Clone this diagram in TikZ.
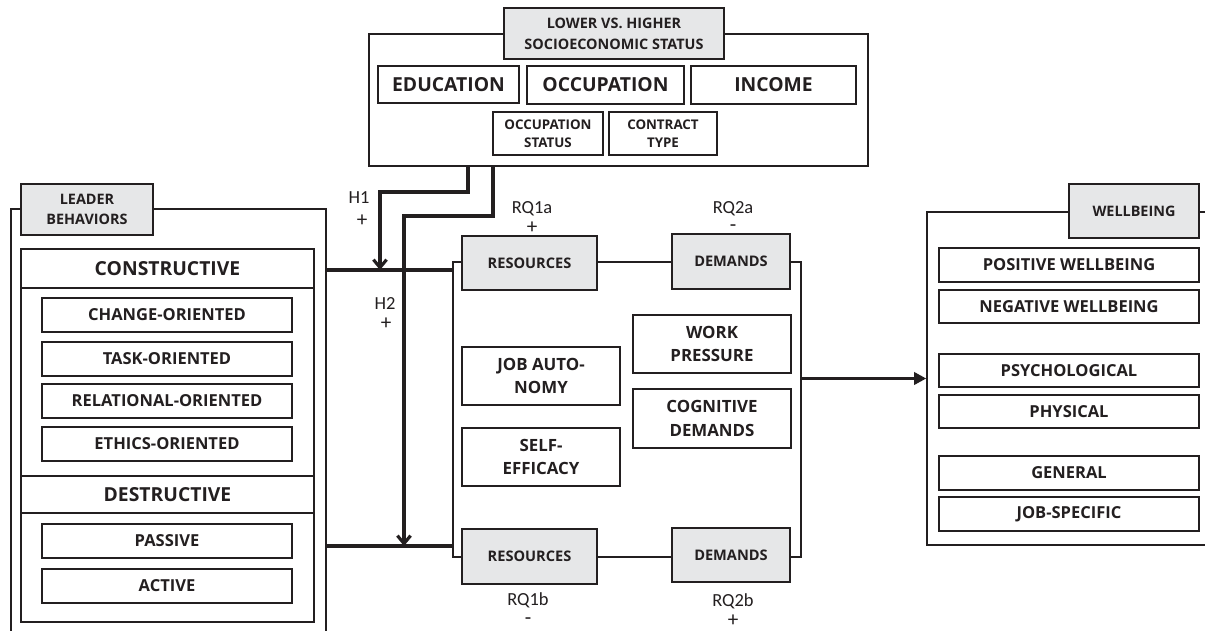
\documentclass[tikz,border=0pt]{standalone}
\usepackage{fontspec}
\setmainfont{Open Sans}
\newfontfamily\hypfont{Carlito}
\usetikzlibrary{arrows.meta}

\definecolor{boxgrey}{RGB}{230,231,232}
\definecolor{inkline}{RGB}{35,31,32}

\tikzset{
	wh/.style 2 args={minimum width=#1*0.02cm, minimum height=#2*0.02cm},
	boxframe/.style={draw=inkline, line width=0.8pt, inner sep=0pt, text=inkline},
	titlebox/.style={boxframe, fill=boxgrey, align=center, font=\bfseries\fontsize{8.2}{12}\selectfont},
	greybox/.style={boxframe, fill=boxgrey, align=center, font=\bfseries\fontsize{8.3}{11}\selectfont},
	bigitem/.style={boxframe, fill=white, align=center, font=\bfseries\fontsize{11}{13}\selectfont},
	item/.style={boxframe, fill=white, align=center, font=\bfseries\fontsize{9.4}{11}\selectfont},
	smallitem/.style={boxframe, fill=white, align=center, font=\bfseries\fontsize{7.6}{10.4}\selectfont},
	pairitem/.style={boxframe, fill=white, align=center, font=\bfseries\fontsize{9.6}{13.2}\selectfont},
	hyp/.style={inner sep=0pt, text=inkline, font=\hypfont\fontsize{10.5}{12}\selectfont},
	sign/.style={inner sep=0pt, text=inkline, font=\hypfont\fontsize{12}{13}\selectfont},
	link/.style={draw=inkline, line width=1.8pt}
}

\begin{document}
\begin{tikzpicture}[x=0.02cm, y=-0.02cm]
	\clip (0,0) rectangle (1205,631);
	\fill[white] (0,0) rectangle (1205,631);

	\node[boxframe, wh={499}{132}] (sesframe) at (618.5,100) {};
	\node[titlebox, wh={220}{51}] (sestitle) at (614,33.5) {LOWER VS. HIGHER\\SOCIOECONOMIC STATUS};
	\node[bigitem, wh={141}{37}] (education) at (448.5,84.5) {EDUCATION};
	\node[bigitem, wh={157}{38}] (occupation) at (605.5,85) {OCCUPATION};
	\node[bigitem, wh={165}{38}] (income) at (773.5,85) {INCOME};
	\node[smallitem, wh={110}{43}] (occstatus) at (548,133.5) {OCCUPATION\\STATUS};
	\node[smallitem, wh={108}{43}] (contract) at (663,133.5) {CONTRACT\\TYPE};

	\node[boxframe, wh={315}{460}] (leaderframe) at (168.5,439) {};
	\node[titlebox, wh={132}{51}, font=\bfseries\fontsize{8.2}{11.7}\selectfont] (leadertitle) at (87,209.5) {LEADER\\BEHAVIORS};
	\node[boxframe, wh={293}{373}] (leaderinner) at (167.5,435.5) {};
	\node[bigitem, wh={293}{39}] (constructive) at (167.5,268.5) {CONSTRUCTIVE};
	\node[item, wh={250}{34}] (change) at (167,315) {CHANGE-ORIENTED};
	\node[item, wh={250}{34}] (task) at (167,359) {TASK-ORIENTED};
	\node[item, wh={250}{34}] (relational) at (167,401) {RELATIONAL-ORIENTED};
	\node[item, wh={250}{34}] (ethics) at (167,444) {ETHICS-ORIENTED};
	\node[bigitem, wh={293}{37}] (destructive) at (167.5,494.5) {DESTRUCTIVE};
	\node[item, wh={250}{34}] (passive) at (167,541) {PASSIVE};
	\node[item, wh={250}{34}] (active) at (167,586) {ACTIVE};

	\node[boxframe, wh={348}{295}] (midframe) at (627,409.5) {};
	\node[greybox, wh={135}{54}] (restop) at (529.5,263) {RESOURCES};
	\node[greybox, wh={118}{55}] (demtop) at (731,261.5) {DEMANDS};
	\node[greybox, wh={135}{55}] (resbot) at (529.5,556.5) {RESOURCES};
	\node[greybox, wh={118}{54}] (dembot) at (731,555) {DEMANDS};
	\node[pairitem, wh={158}{58}] (autonomy) at (541,376) {JOB AUTO-\\NOMY};
	\node[pairitem, wh={158}{58}] (efficacy) at (541,457) {SELF-\\EFFICACY};
	\node[pairitem, wh={158}{58}] (pressure) at (712,344) {WORK\\PRESSURE};
	\node[pairitem, wh={158}{59}] (cognitive) at (712,418.5) {COGNITIVE\\DEMANDS};

	\node[hyp] (rqonea) at (532,209) {RQ1a};
	\node[sign] (rqonea sign) at (532,227.5) {+};
	\node[hyp] (rqtwoa) at (733,208.5) {RQ2a};
	\node[sign] (rqtwoa sign) at (733,228.5) {-};
	\node[hyp] (rqoneb) at (528,600) {RQ1b};
	\node[sign] (rqoneb sign) at (528,621.5) {-};
	\node[hyp] (rqtwob) at (733,601.5) {RQ2b};
	\node[sign] (rqtwob sign) at (733,620.5) {+};

	\node[boxframe, wh={288}{333}] (wellframe) at (1071,378.5) {};
	\node[titlebox, wh={130}{54}] (welltitle) at (1134,211) {WELLBEING};
	\node[item, wh={260}{34}] (positive) at (1069,265) {POSITIVE WELLBEING};
	\node[item, wh={260}{33}] (negative) at (1069,306.5) {NEGATIVE WELLBEING};
	\node[item, wh={260}{33}] (psych) at (1069,370.5) {PSYCHOLOGICAL};
	\node[item, wh={260}{33}] (physical) at (1069,411.5) {PHYSICAL};
	\node[item, wh={260}{34}] (general) at (1069,473) {GENERAL};
	\node[item, wh={260}{34}] (jobspec) at (1069,514) {JOB-SPECIFIC};

	\coordinate (cline) at (0,270);
	\coordinate (dline) at (0,546);
	\coordinate (hone) at (468,166);
	\coordinate (htwo) at (493,166);
	\coordinate (honebend) at (380,192);
	\coordinate (htwobend) at (404,216);

	\draw[link] (leaderframe.east |- cline) -- (midframe.west |- cline);
	\draw[link] (leaderframe.east |- dline) -- (midframe.west |- dline);
	\draw[link, -{Straight Barb[length=4.5pt, width=7.5pt]}] (hone) |- (honebend) -- (honebend |- cline);
	\draw[link, -{Straight Barb[length=4.5pt, width=7.5pt]}] (htwo) |- (htwobend) -- (htwobend |- dline);
	\draw[link, -{Triangle[length=7pt, width=7pt]}] (midframe.east |- wellframe.west) -- (wellframe.west);

	\node[hyp] (hone label) at (359,198) {H1};
	\node[sign] (hone sign) at (362,221) {+};
	\node[hyp] (htwo label) at (385,304) {H2};
	\node[sign] (htwo sign) at (386,324) {+};
\end{tikzpicture}
\end{document}
